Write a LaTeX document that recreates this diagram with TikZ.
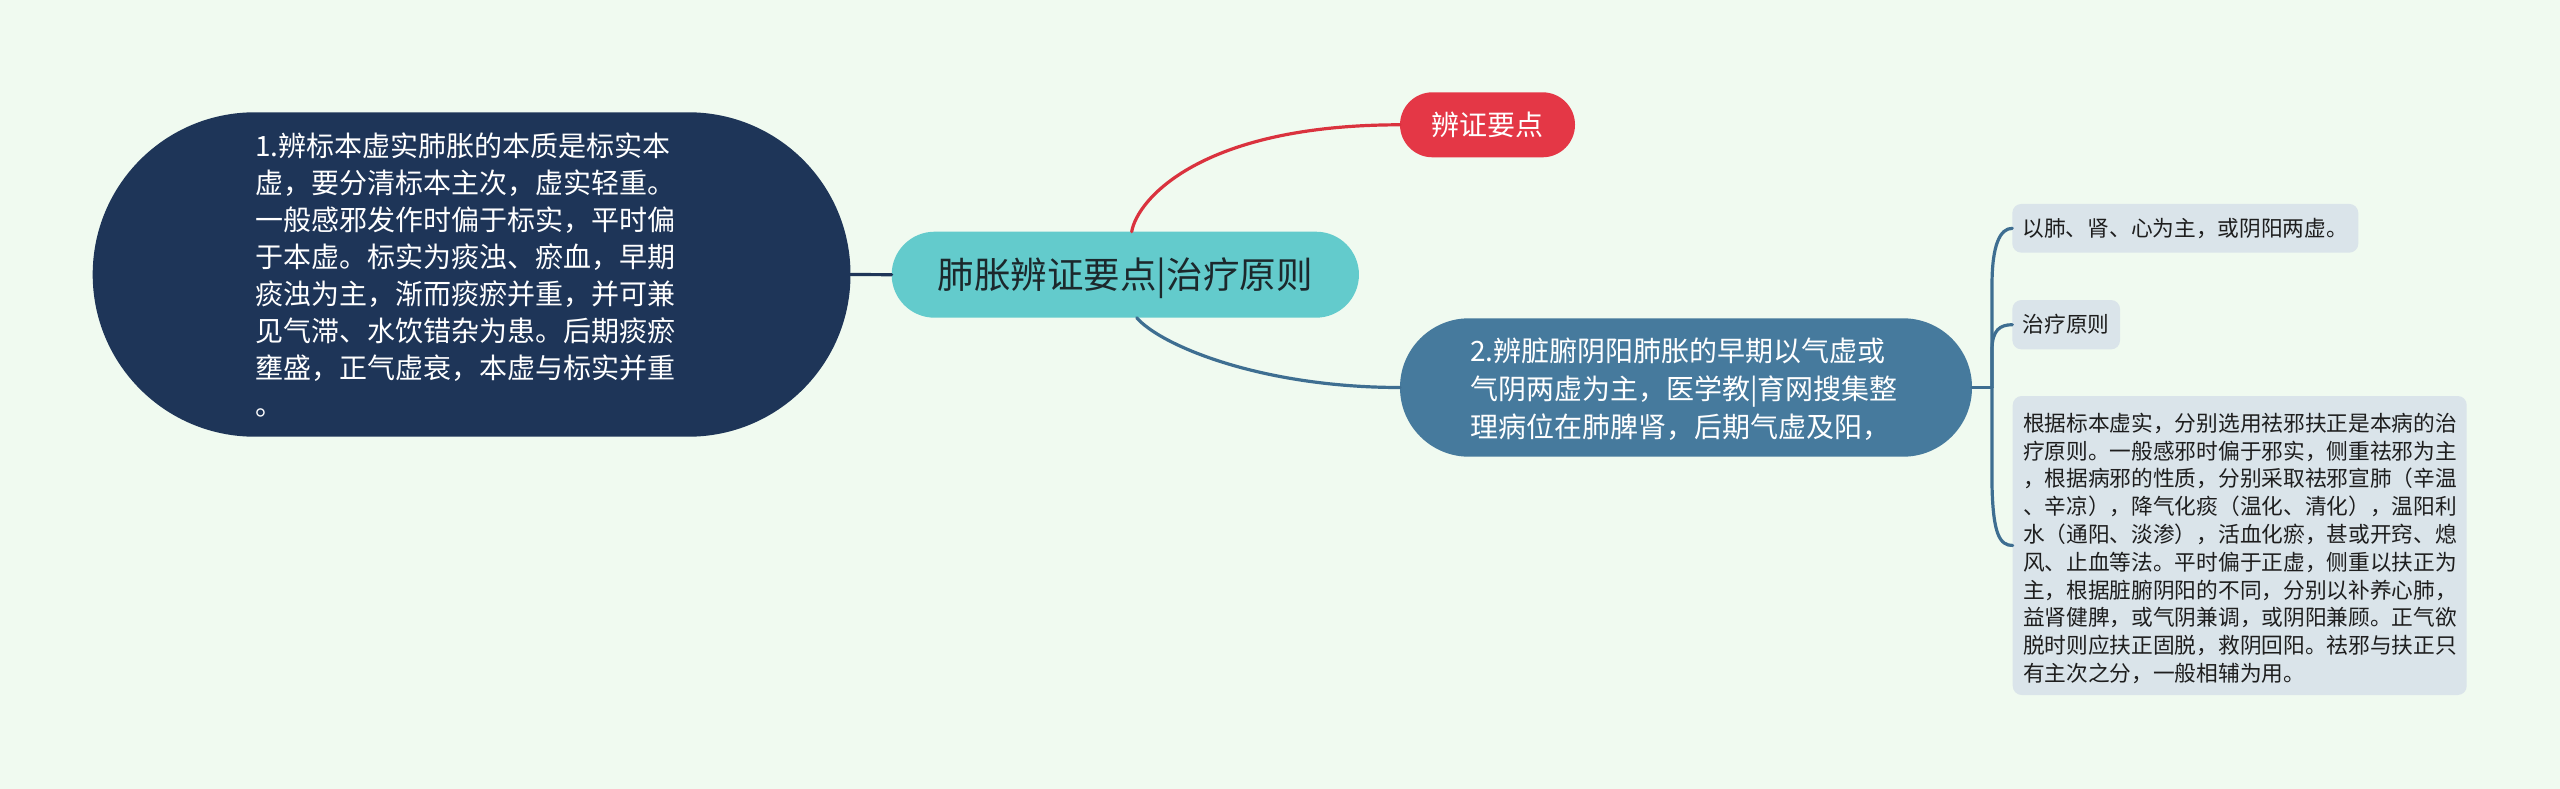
\documentclass[tikz,border=0pt]{standalone}
\usepackage{fontspec}
\newfontfamily\cjk{Noto Sans CJK SC}
\definecolor{bgcol}{RGB}{240,250,240}
\definecolor{navy}{RGB}{30,53,88}
\definecolor{teal}{RGB}{99,203,204}
\definecolor{redc}{RGB}{228,55,70}
\definecolor{redline}{RGB}{218,50,62}
\definecolor{steel}{RGB}{70,122,157}
\definecolor{steelline}{RGB}{62,110,145}
\definecolor{leafc}{RGB}{218,228,234}
\definecolor{darktext}{RGB}{28,40,44}
\definecolor{leaftext}{RGB}{30,30,30}
\begin{document}
\begin{tikzpicture}[x=1pt,y=-1pt,
  shapebox/.style={draw=none,inner sep=0pt,outer sep=0pt},
  textblock/.style={inner sep=0pt,outer sep=0pt,anchor=base west},
  conn/.style={line width=3.2pt,line cap=round},
  leafbox/.style={shapebox,fill=leafc,rounded corners=9pt,text=leaftext,
    font=\cjk\fontsize{21.7}{27.8}\selectfont,text height=19.1pt,text depth=2.6pt}
]
\useasboundingbox (0,0) rectangle (2560,789);
\fill[bgcol] (0,0) rectangle (2560,789);

% main shapes
\node[shapebox,fill=navy,minimum width=757.8pt,minimum height=324.4pt,rounded corners=162pt] (left) at (471.6,274.5) {};
\node[shapebox,fill=teal,minimum width=467.3pt,minimum height=86pt,rounded corners=43pt,
  text=darktext,font=\cjk\fontsize{36.5}{40}\selectfont,text height=32pt,text depth=4.4pt] (central) at (1125.3,274.7) {肺胀辨证要点|治疗原则};
\node[shapebox,fill=redc,minimum width=175pt,minimum height=65pt,rounded corners=32.5pt,
  text=white,font=\cjk\fontsize{28}{32}\selectfont,text height=24.6pt,text depth=3.4pt] (red) at (1487.5,124.8) {辨证要点};
\node[shapebox,fill=steel,minimum width=572pt,minimum height=138.4pt,rounded corners=69pt] (blue) at (1686,387.5) {};
\node[leafbox,minimum width=346pt,minimum height=48.7pt] (leaf1) at (2185.3,228.3) {以肺、肾、心为主，或阴阳两虚。};
\node[leafbox,minimum width=107.7pt,minimum height=49.3pt] (leaf2) at (2066.2,324.7) {治疗原则};
\node[leafbox,minimum width=454pt,minimum height=299pt] (leaf3) at (2239.7,545.5) {};

% text blocks
\node[textblock,text=white,font=\cjk\fontsize{28}{37}\selectfont] (lefttext) at (255,156.3) {\begin{tabular}[t]{@{}l@{}}
1.辨标本虚实肺胀的本质是标实本\\
虚，要分清标本主次，虚实轻重。\\
一般感邪发作时偏于标实，平时偏\\
于本虚。标实为痰浊、瘀血，早期\\
痰浊为主，渐而痰瘀并重，并可兼\\
见气滞、水饮错杂为患。后期痰瘀\\
壅盛，正气虚衰，本虚与标实并重\\
。
\end{tabular}};
\node[textblock,text=white,font=\cjk\fontsize{28}{38.3}\selectfont] (bluetext) at (1470,361.3) {\begin{tabular}[t]{@{}l@{}}
2.辨脏腑阴阳肺胀的早期以气虚或\\
气阴两虚为主，医学教|育网搜集整\\
理病位在肺脾肾，后期气虚及阳，
\end{tabular}};
\node[textblock,text=leaftext,font=\cjk\fontsize{21.7}{27.8}\selectfont] (leaf3text) at (2023,431.2) {\begin{tabular}[t]{@{}l@{}}
根据标本虚实，分别选用祛邪扶正是本病的治\\
疗原则。一般感邪时偏于邪实，侧重祛邪为主\\
，根据病邪的性质，分别采取祛邪宣肺（辛温\\
、辛凉），降气化痰（温化、清化），温阳利\\
水（通阳、淡渗），活血化瘀，甚或开窍、熄\\
风、止血等法。平时偏于正虚，侧重以扶正为\\
主，根据脏腑阴阳的不同，分别以补养心肺，\\
益肾健脾，或气阴兼调，或阴阳兼顾。正气欲\\
脱时则应扶正固脱，救阴回阳。祛邪与扶正只\\
有主次之分，一般相辅为用。
\end{tabular}};

% connectors
\draw[conn,navy] (left.east) -- (central.west);
\draw[conn,redline] ([xshift=6.4pt]central.north) .. controls (1137,200) and (1200,124.8) .. (red.west);
\draw[conn,steelline] ([xshift=11.4pt]central.south) .. controls (1160,345) and (1260,387.5) .. (blue.west);
\coordinate (trunk) at (1992,387.5);
\draw[conn,steelline] (blue.east) -- (trunk);
\draw[conn,steelline] (trunk) -- (1992,285) .. controls (1992,245) and (2000,228.3) .. (leaf1.west);
\draw[conn,steelline] (trunk) -- (1992,350) .. controls (1992,330) and (2000,324.7) .. (leaf2.west);
\draw[conn,steelline] (trunk) -- (1992,485) .. controls (1993,535) and (2000,545.5) .. (leaf3.west);
\end{tikzpicture}
\end{document}
